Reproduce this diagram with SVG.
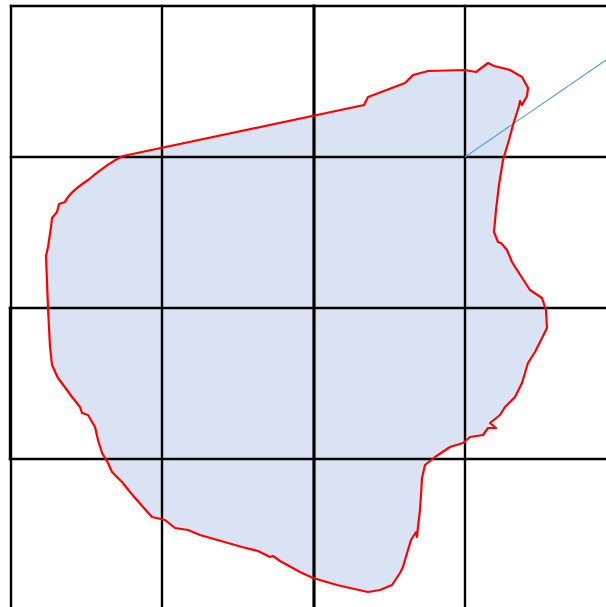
<svg xmlns="http://www.w3.org/2000/svg" xmlns:xlink="http://www.w3.org/1999/xlink" width="606" height="607" viewBox="0 0 606 607">
<style>
.grid line{stroke:#000;stroke-width:2.4;stroke-linecap:square}
.thick{stroke-width:3.2 !important}
</style>
<defs>
<path id="blob" d="M123,156 L364,105 L368,97 L405,83 L413,75 L428,71 L465,70 L476,72 L488,63 L494,66 L510,70 L522,77 L528,88 L527,96 L522,105 L520,101 L519,106 L513,125 L509,140 L503,160 L499,185 L496,210 L494,232 L498,242 L501,243 L507,250 L512,262 L517,270 L530,290 L542,298 L546,310 L547,328 L540,342 L535,352 L528,363 L522,383 L515,397 L505,407 L500,415 L490,423 L496,428 L488,428 L483,435 L470,437 L463,443 L450,447 L435,457 L425,465 L422,478 L421,495 L420,510 L418,527 L417,537 L416,532 L411,540 L405,560 L403,567 L400,573 L392,585 L380,590 L368,592 L350,588 L337,585 L313,578 L300,572 L280,561 L273,556 L270,557 L258,551 L242,547 L200,535 L188,530 L175,528 L165,520 L152,517 L143,507 L130,492 L122,482 L112,472 L108,463 L102,453 L98,440 L95,427 L88,415 L82,413 L80,407 L72,397 L67,390 L58,378 L52,365 L50,347 L48,308 L46,256 L48,247 L51,227 L52,218 L57,212 L59,204 L65,202 C68,195 76,188 88,180 C100,170 112,161 123,156 Z"/>
</defs>
<rect width="606" height="607" fill="#fff"/>
<use id="shape-fill" xlink:href="#blob" fill="#dae3f3" stroke="none"/>
<g id="grid" class="grid">
<line x1="11" y1="6" x2="11" y2="607"/>
<line x1="162" y1="6" x2="162" y2="607"/>
<line class="thick" x1="314" y1="6" x2="314" y2="607"/>
<line x1="465" y1="6" x2="465" y2="607"/>
<line x1="11" y1="6" x2="606" y2="6"/>
<line x1="11" y1="157" x2="606" y2="157"/>
<line x1="10" y1="308" x2="606" y2="308"/>
<line x1="10" y1="459" x2="606" y2="459"/>
<line x1="10" y1="308" x2="10" y2="459"/>
</g>
<g id="connectors">
<line x1="465" y1="157" x2="606" y2="60" stroke="#5b9bd5" stroke-width="1.1"/>
</g>
<use id="shape-outline" xlink:href="#blob" fill="none" stroke="#ff0000" stroke-width="2.2" stroke-linejoin="round"/>
</svg>
